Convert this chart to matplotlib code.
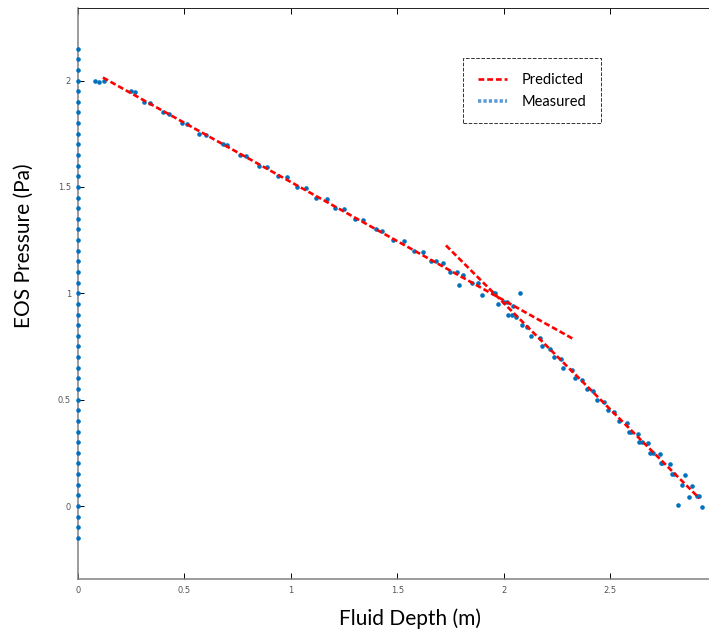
import matplotlib
matplotlib.use("Agg")
import matplotlib.pyplot as plt
from matplotlib.lines import Line2D

# measured points along the axis (x = 0)
axis_depth = [0.0] * 47
axis_pressure = [-0.15, -0.10, -0.05, 0.00, 0.05, 0.10, 0.15, 0.20, 0.25, 0.30,
                 0.35, 0.40, 0.45, 0.50, 0.55, 0.60, 0.65, 0.70, 0.75, 0.80,
                 0.85, 0.90, 0.95, 1.00, 1.05, 1.10, 1.15, 1.20, 1.25, 1.30,
                 1.35, 1.40, 1.45, 1.50, 1.55, 1.60, 1.65, 1.70, 1.75, 1.80,
                 1.85, 1.90, 1.95, 2.00, 2.05, 2.10, 2.15]

# measured points along the curve
depth = [0.08, 0.10, 0.12, 0.25, 0.27, 0.31, 0.34, 0.40, 0.43, 0.49,
         0.51, 0.57, 0.60, 0.68, 0.70, 0.76, 0.79, 0.85, 0.89, 0.94,
         0.98, 1.03, 1.07, 1.12, 1.17, 1.21, 1.25, 1.30, 1.34, 1.40,
         1.43, 1.48, 1.53, 1.58, 1.62, 1.66, 1.68, 1.715, 1.75, 1.78,
         1.79, 1.81, 1.85, 1.88, 1.90, 1.95, 1.96, 1.975, 2.00, 2.015,
         2.02, 2.04, 2.045, 2.06, 2.075, 2.085, 2.11, 2.13, 2.17, 2.18,
         2.22, 2.235, 2.27, 2.28, 2.32, 2.335, 2.37, 2.39, 2.42, 2.44,
         2.47, 2.49, 2.52, 2.54, 2.58, 2.59, 2.60, 2.63, 2.635, 2.65,
         2.68, 2.69, 2.70, 2.735, 2.74, 2.745, 2.78, 2.79, 2.80, 2.85,
         2.84, 2.885, 2.87, 2.91, 2.92, 2.82, 2.93]
pressure = [2.00, 1.995, 2.00, 1.95, 1.945, 1.90, 1.895, 1.85, 1.845, 1.80,
            1.795, 1.75, 1.745, 1.70, 1.695, 1.65, 1.645, 1.60, 1.595, 1.55,
            1.545, 1.50, 1.495, 1.45, 1.445, 1.40, 1.395, 1.35, 1.345, 1.30,
            1.295, 1.25, 1.245, 1.20, 1.195, 1.15, 1.15, 1.14, 1.10, 1.10,
            1.04, 1.085, 1.05, 1.05, 0.99, 1.00, 1.00, 0.95, 0.96, 0.96,
            0.90, 0.90, 0.94, 0.89, 1.00, 0.85, 0.84, 0.80, 0.79, 0.75,
            0.74, 0.70, 0.69, 0.65, 0.64, 0.60, 0.59, 0.55, 0.54, 0.50,
            0.49, 0.45, 0.44, 0.40, 0.39, 0.35, 0.35, 0.34, 0.30, 0.30,
            0.295, 0.25, 0.25, 0.245, 0.20, 0.20, 0.197, 0.15, 0.15, 0.146,
            0.10, 0.094, 0.044, 0.047, 0.047, 0.005, -0.003]

# predicted fits
fit1_depth = [0.117, 2.326]
fit1_pressure = [2.014, 0.786]
fit2_depth = [1.729, 2.92]
fit2_pressure = [1.225, 0.036]

xticks = [0, 0.5, 1, 1.5, 2, 2.5]
xticklabels = ["0", "0.5", "1", "1.5", "2", "2.5"]
yticks = [0, 0.5, 1, 1.5, 2]
yticklabels = ["0", "0.5", "1", "1.5", "2"]

blue = "#0072BD"
red = "#FF0000"

fig = plt.figure(figsize=(7.09, 6.34), dpi=100)
ax = fig.add_axes([0.110, 0.0868, 0.9365, 0.9006])

ax.plot(axis_depth, axis_pressure, "o", color=blue, ms=3.3, mew=0, clip_on=False, zorder=3)
ax.plot(depth, pressure, "o", color=blue, ms=3.3, mew=0, zorder=3)
ax.plot(fit1_depth, fit1_pressure, color=red, lw=1.9, dashes=(2.2, 1.1), zorder=4)
ax.plot(fit2_depth, fit2_pressure, color=red, lw=1.9, dashes=(2.2, 1.1), zorder=4)

ax.set_xlim(0, 3.12)
ax.set_ylim(-0.343, 2.341)
ax.set_xticks(xticks)
ax.set_xticklabels(xticklabels)
ax.set_yticks(yticks)
ax.set_yticklabels(yticklabels)
ax.tick_params(direction="in", length=4.5, width=0.7, labelsize=6, labelcolor="#555555",
               top=True, right=True, pad=5)

for side in ["left", "bottom"]:
    ax.spines[side].set_color("#808080")
    ax.spines[side].set_linewidth(1.1)
ax.spines["top"].set_color("#222222")
ax.spines["top"].set_linewidth(0.7)

ax.set_xlabel("Fluid Depth (m)", fontsize=15, family="Lato", va="center")
ax.xaxis.set_label_coords(0.5, -0.070)
ax.set_ylabel("EOS Pressure (Pa)", fontsize=15, family="Lato", va="center")
ax.yaxis.set_label_coords(-0.0813, 0.584)

handles = [Line2D([], [], color=red, lw=1.9, dashes=(2.2, 1.1)),
           Line2D([], [], color="#5B9BD5", lw=2.6, dashes=(0.9, 0.6))]
leg = ax.legend(handles, ["Predicted", "Measured"], loc="upper left",
                bbox_to_anchor=(0.580, 0.912), borderaxespad=0, fancybox=False,
                prop={"family": "Lato", "size": 10.5}, handlelength=2.0,
                borderpad=1.0, labelspacing=0.55, handletextpad=1.0)
frame = leg.get_frame()
frame.set_edgecolor("black")
frame.set_linestyle("--")
frame.set_linewidth(0.7)

fig.savefig("out.png", dpi=100)
